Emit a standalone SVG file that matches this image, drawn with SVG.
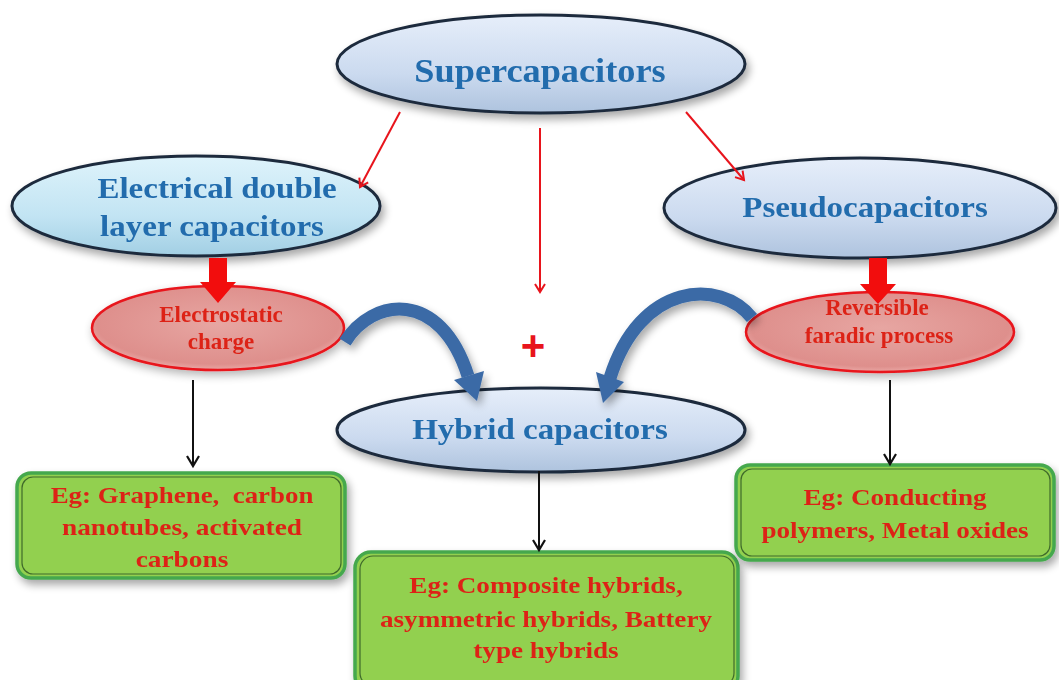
<svg xmlns="http://www.w3.org/2000/svg" width="1059" height="680" viewBox="0 0 1059 680">
<defs>
<linearGradient id="gBlue" x1="0" y1="0" x2="0" y2="1">
<stop offset="0" stop-color="#e6eefa"/><stop offset="0.6" stop-color="#cbdaef"/><stop offset="1" stop-color="#aec3de"/>
</linearGradient>
<linearGradient id="gCyan" x1="0" y1="0" x2="0" y2="1">
<stop offset="0" stop-color="#def3fb"/><stop offset="0.6" stop-color="#c2e4f3"/><stop offset="1" stop-color="#a2cfe4"/>
</linearGradient>
<radialGradient id="gRed" cx="0.5" cy="0.45" r="0.6">
<stop offset="0" stop-color="#e7a6a2"/><stop offset="0.8" stop-color="#de8f8c"/><stop offset="1" stop-color="#f2b9b6"/>
</radialGradient>
<filter id="sh" x="-20%" y="-20%" width="140%" height="150%">
<feGaussianBlur in="SourceAlpha" stdDeviation="4"/>
<feOffset dx="3" dy="5" result="b"/>
<feComponentTransfer><feFuncA type="linear" slope="0.35"/></feComponentTransfer>
<feMerge><feMergeNode/><feMergeNode in="SourceGraphic"/></feMerge>
</filter>
<filter id="glow" x="-20%" y="-20%" width="140%" height="140%">
<feGaussianBlur in="SourceAlpha" stdDeviation="5"/>
<feOffset dx="2" dy="4"/>
<feComponentTransfer><feFuncA type="linear" slope="0.3"/></feComponentTransfer>
<feMerge><feMergeNode/><feMergeNode in="SourceGraphic"/></feMerge>
</filter>
<marker id="redHead" markerWidth="12" markerHeight="12" refX="9" refY="6" orient="auto" markerUnits="userSpaceOnUse">
<path d="M1,1 L9,6 L1,11" fill="none" stroke="#e8141c" stroke-width="2"/>
</marker>
<marker id="blkHead" markerWidth="14" markerHeight="14" refX="11" refY="7" orient="auto" markerUnits="userSpaceOnUse">
<path d="M1,1 L11,7 L1,13" fill="none" stroke="#111" stroke-width="2.2"/>
</marker>
</defs>
<style>
.blueEl{stroke:#1d2a3c;stroke-width:3;}
.redEl{stroke:#e8141c;stroke-width:2.5;}
.box{fill:#92d050;stroke:#45a84d;stroke-width:3.5;}
.boxIn{fill:none;stroke:#3f6b2a;stroke-width:1.2;}
.tBlue{font-family:"Liberation Serif","Times New Roman",serif;font-weight:bold;fill:#226cad;text-anchor:middle;}
.tRed{font-family:"Liberation Serif","Times New Roman",serif;font-weight:bold;fill:#dd2418;text-anchor:middle;white-space:pre;}
.thin{stroke:#e8141c;stroke-width:2;fill:none;}
.blk{stroke:#111;stroke-width:2;fill:none;}
.bigRed{fill:#f20d0d;}
.curve{fill:none;stroke:#3b6aa6;stroke-width:13;}
.curveHead{fill:#3b6aa6;}
</style>
<rect width="1059" height="680" fill="#ffffff"/>

<g id="supercapacitors" filter="url(#sh)">
<ellipse cx="541" cy="64" rx="204" ry="49" fill="url(#gBlue)" class="blueEl"/>
<text transform="translate(540,82) scale(1.1,1)" class="tBlue" font-size="33">Supercapacitors</text>
</g>

<g id="edlc" filter="url(#sh)">
<ellipse cx="196" cy="206" rx="184" ry="50" fill="url(#gCyan)" class="blueEl"/>
<text transform="translate(217,198) scale(1.1,1)" class="tBlue" font-size="30">Electrical double</text>
<text transform="translate(212,236) scale(1.1,1)" class="tBlue" font-size="30">layer capacitors</text>
</g>

<g id="pseudocapacitors" filter="url(#sh)">
<ellipse cx="860" cy="208" rx="196" ry="50" fill="url(#gBlue)" class="blueEl"/>
<text transform="translate(865,217) scale(1.1,1)" class="tBlue" font-size="30">Pseudocapacitors</text>
</g>

<g id="electrostatic" filter="url(#glow)">
<ellipse cx="218" cy="328" rx="126" ry="42" fill="url(#gRed)" class="redEl"/>
<text x="221" y="322" class="tRed" font-size="23">Electrostatic</text>
<text x="221" y="349" class="tRed" font-size="23">charge</text>
</g>

<g id="faradic" filter="url(#glow)">
<ellipse cx="880" cy="332" rx="134" ry="40" fill="url(#gRed)" class="redEl"/>
<text x="877" y="315" class="tRed" font-size="23">Reversible</text>
<text x="879" y="343" class="tRed" font-size="23">faradic process</text>
</g>

<g id="hybrid" filter="url(#sh)">
<ellipse cx="541" cy="430" rx="204" ry="42" fill="url(#gBlue)" class="blueEl"/>
<text transform="translate(540,439) scale(1.1,1)" class="tBlue" font-size="30">Hybrid capacitors</text>
</g>

<g id="box-left" filter="url(#sh)">
<rect x="17" y="473" width="328" height="105" rx="14" class="box"/>
<rect x="22" y="477" width="319" height="97" rx="11" class="boxIn"/>
<text transform="translate(182,503) scale(1.12,1)" class="tRed" font-size="24" xml:space="preserve">Eg: Graphene,  carbon</text>
<text transform="translate(182,535) scale(1.14,1)" class="tRed" font-size="24">nanotubes, activated</text>
<text transform="translate(182,567) scale(1.14,1)" class="tRed" font-size="24">carbons</text>
</g>

<g id="box-middle" filter="url(#sh)">
<rect x="355" y="552" width="383" height="140" rx="16" class="box"/>
<rect x="360" y="556" width="374" height="130" rx="13" class="boxIn"/>
<text transform="translate(546,593) scale(1.13,1)" class="tRed" font-size="24">Eg: Composite hybrids,</text>
<text transform="translate(546,627) scale(1.13,1)" class="tRed" font-size="24">asymmetric hybrids, Battery</text>
<text transform="translate(546,658) scale(1.13,1)" class="tRed" font-size="24">type hybrids</text>
</g>

<g id="box-right" filter="url(#sh)">
<rect x="736" y="465" width="318" height="95" rx="14" class="box"/>
<rect x="741" y="469" width="309" height="87" rx="11" class="boxIn"/>
<text transform="translate(895,505) scale(1.13,1)" class="tRed" font-size="24">Eg: Conducting</text>
<text transform="translate(895,538) scale(1.13,1)" class="tRed" font-size="24">polymers, Metal oxides</text>
</g>

<g id="connectors">
<line class="thin" x1="400" y1="112" x2="360" y2="187" marker-end="url(#redHead)"/>
<line class="thin" x1="686" y1="112" x2="744" y2="180" marker-end="url(#redHead)"/>
<line class="thin" x1="540" y1="128" x2="540" y2="292" marker-end="url(#redHead)"/>
<polygon class="bigRed" points="209,258 227,258 227,282 236,282 218,303 200,282 209,282"/>
<polygon class="bigRed" points="869,258 887,258 887,284 896,284 878,304 860,284 869,284"/>
<line class="blk" x1="193" y1="380" x2="193" y2="466" marker-end="url(#blkHead)"/>
<line class="blk" x1="539" y1="471" x2="539" y2="550" marker-end="url(#blkHead)"/>
<line class="blk" x1="890" y1="380" x2="890" y2="464" marker-end="url(#blkHead)"/>
<g filter="url(#sh)">
<path class="curve" d="M 345 342 C 372 298, 440 288, 468 376"/>
<polygon class="curveHead" points="454,380 484,371 477,401"/>
<path class="curve" d="M 752 318 C 720 278, 640 282, 610 378"/>
<polygon class="curveHead" points="596,372 624,382 603,403"/>
</g>
<text x="533" y="360" style="font-family:'Liberation Sans',sans-serif;font-weight:bold;font-size:42px;fill:#e8141c;text-anchor:middle">+</text>
</g>
</svg>
